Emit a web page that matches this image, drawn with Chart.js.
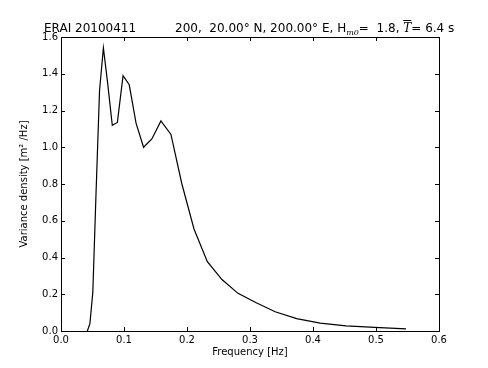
<!DOCTYPE html>
<html>
<head>
<meta charset="utf-8">
<script src="https://cdn.jsdelivr.net/npm/chart.js@4"></script>
<style>
  html, body { margin: 0; padding: 0; background: #fff; }
  #wrap { position: relative; width: 488px; height: 368px; }
  .ttl { position: absolute; top: 21px; font: 12px "DejaVu Sans"; line-height: 14px; white-space: pre; color: #000; }
  .mi { font-family: "DejaVu Serif"; font-style: italic; }
  .sub { font-size: 8px; position: relative; top: 3px; }
  .ovl { text-decoration: overline; }
</style>
</head>
<body>
<div id="wrap">
  <canvas id="spec" width="488" height="368"></canvas>
  <div class="ttl" style="left:44px">ERAI 20100411</div>
  <div class="ttl" style="left:175px">200,  20.00° N, 200.00° E, H<span class="mi sub">m0</span>=  1.8, <span class="mi ovl">T</span>= 6.4 s</div>
</div>
<script>
// ERA-Interim spectral frequencies [Hz] and variance density [m^2/Hz]
const freqs = [0.0418, 0.0459, 0.0505, 0.0556, 0.0612, 0.0673, 0.0740, 0.0814, 0.0895, 0.0985,
               0.1083, 0.1192, 0.1311, 0.1442, 0.1586, 0.1745, 0.1919, 0.2111, 0.2323, 0.2555,
               0.2810, 0.3091, 0.3400, 0.3740, 0.4114, 0.4526, 0.4979, 0.5476];
const density = [0, 0.04, 0.21, 0.75, 1.31, 1.54, 1.35, 1.12, 1.135, 1.39,
                 1.34, 1.13, 1.00, 1.045, 1.143, 1.07, 0.80, 0.555, 0.377, 0.28,
                 0.205, 0.155, 0.105, 0.067, 0.043, 0.028, 0.02, 0.012];
const xTicks = [0, 0.1, 0.2, 0.3, 0.4, 0.5, 0.6];
const yTicks = [0, 0.2, 0.4, 0.6, 0.8, 1.0, 1.2, 1.4, 1.6];

const font = { family: 'DejaVu Sans', size: 10 };

// matplotlib style frame with inward ticks on all four sides
const frameTicks = {
    id: 'frameTicks',
    afterDraw(chart) {
        const { ctx, chartArea: a, scales } = chart;
        const len = 4;
        ctx.save();
        ctx.strokeStyle = '#000';
        ctx.lineWidth = 1;
        ctx.beginPath();
        xTicks.forEach(v => {
            const x = Math.round(scales.x.getPixelForValue(v)) + 0.5;
            ctx.moveTo(x, a.bottom); ctx.lineTo(x, a.bottom - len);
            ctx.moveTo(x, a.top); ctx.lineTo(x, a.top + len);
        });
        yTicks.forEach(v => {
            const y = Math.round(scales.y.getPixelForValue(v)) + 0.5;
            ctx.moveTo(a.left, y); ctx.lineTo(a.left + len, y);
            ctx.moveTo(a.right, y); ctx.lineTo(a.right - len, y);
        });
        ctx.stroke();
        ctx.strokeRect(Math.round(a.left) + 0.5, Math.round(a.top) + 0.5,
                       Math.round(a.right - a.left), Math.round(a.bottom - a.top));
        ctx.restore();
    }
};

new Chart(document.getElementById('spec'), {
    type: 'line',
    data: {
        datasets: [{
            data: freqs.map((f, i) => ({ x: f, y: density[i] })),
            borderColor: '#000',
            borderWidth: 1.2,
            pointRadius: 0,
            tension: 0,
            fill: false
        }]
    },
    options: {
        responsive: false,
        animation: false,
        layout: { padding: { top: 37, right: 49, left: 0, bottom: 0 } },
        plugins: { legend: { display: false }, tooltip: { enabled: false } },
        scales: {
            x: {
                type: 'linear', min: 0, max: 0.6,
                afterFit: s => { s.height = 37; },
                afterBuildTicks: s => { s.ticks = xTicks.map(v => ({ value: v })); },
                grid: { display: false, drawTicks: false },
                border: { display: false },
                ticks: { color: '#000', font, padding: 3, maxRotation: 0, callback: v => v.toFixed(1) },
                title: { display: true, text: 'Frequency [Hz]', color: '#000', font, padding: { top: 0, bottom: 10 } }
            },
            y: {
                type: 'linear', min: 0, max: 1.6,
                afterFit: s => { s.width = 61; },
                afterBuildTicks: s => { s.ticks = yTicks.map(v => ({ value: v })); },
                grid: { display: false, drawTicks: false },
                border: { display: false },
                ticks: { color: '#000', font, padding: 3, callback: v => v.toFixed(1) },
                title: { display: true, text: 'Variance density [m² /Hz]', color: '#000', font, padding: { top: 18, bottom: 0 } }
            }
        }
    },
    plugins: [frameTicks]
});
</script>
</body>
</html>
